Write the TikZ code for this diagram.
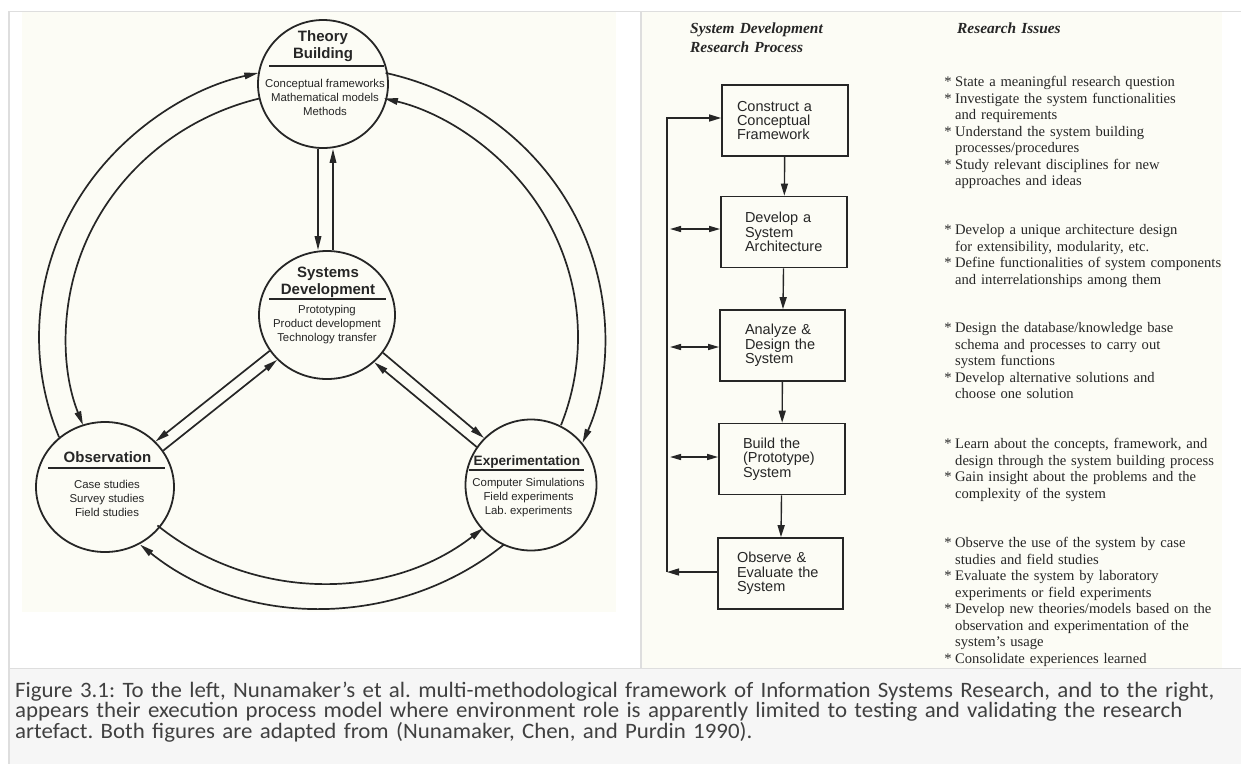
\documentclass[tikz,border=0pt]{standalone}
\usepackage{fontspec}
\setmainfont{Liberation Serif}
\setsansfont{Liberation Sans}
\newfontfamily\capfont{Carlito}[FakeStretch=1.04]
\usetikzlibrary{arrows.meta,shapes.geometric,calc}

\definecolor{scan}{RGB}{252,252,245}
\definecolor{ink}{RGB}{38,38,38}
\definecolor{frame}{RGB}{222,222,222}
\definecolor{capbg}{RGB}{246,246,246}
\definecolor{captext}{RGB}{64,64,64}

\newcommand\issuebullet{\leavevmode\llap{*\hspace{3.5pt}}}

\begin{document}
\begin{tikzpicture}[x=1pt,y=1pt,
  hub/.style 2 args={ellipse, draw=ink, line width=1.8pt, minimum width=#1,
    minimum height=#2, inner sep=0pt},
  link/.style={draw=ink, line width=1.7pt, -{Triangle[length=14pt,width=6.5pt]}},
  rulebar/.style={draw=ink, line width=1.5pt},
  htitle/.style={font=\sffamily\bfseries\fontsize{15}{17}\selectfont, align=center,
    inner sep=0pt, text=ink},
  hitems/.style={font=\sffamily\fontsize{11.4}{14}\selectfont, align=center,
    inner sep=0pt, text=ink},
  stagebox/.style={draw=ink, line width=1.7pt, minimum height=71pt, align=left,
    font=\sffamily\fontsize{14.5}{14.3}\selectfont, text=ink},
  flow/.style={draw=ink, line width=1.4pt, -{Triangle[length=12pt,width=7pt]}},
  twoway/.style={draw=ink, line width=1.4pt,
    {Triangle[length=11pt,width=6pt]}-{Triangle[length=11pt,width=6pt]}},
  headtext/.style={font=\rmfamily\bfseries\itshape\fontsize{15.4}{19}\selectfont,
    anchor=base west, align=left, inner sep=0pt, text width=200pt, text=ink},
  issue/.style={font=\rmfamily\fontsize{14.6}{16.5}\selectfont, anchor=base west,
    align=left, inner sep=0pt, text width=300pt, text=ink},
]
\useasboundingbox (0,0) rectangle (1241,-764);
\fill[white] (0,0) rectangle (1241,-764);

% panels and frame
\fill[scan] (22,-12) rectangle (616,-612);
\fill[scan] (642,-12) rectangle (1222,-668);
\fill[capbg] (8,-668) rectangle (1241,-764);
\draw[frame, line width=1pt] (8,-668.5) -- (1241,-668.5);
\draw[frame, line width=1pt] (8,-11.5) -- (1241,-11.5);
\draw[frame, line width=2pt] (8.5,-11) -- (8.5,-764);
\draw[frame, line width=1.5pt] (641,-12) -- (641,-668);

% ---------- multi-methodological framework ----------
\coordinate (ring) at (322,-337);

\node[hub={130pt}{128pt}] (T) at (323,-84) {};
\node[hub={136pt}{128pt}] (S) at (327,-315) {};
\node[hub={138pt}{130pt}] (O) at (105,-487) {};
\node[hub={131pt}{131pt}] (E) at (531,-485) {};

\node[htitle] (Tt) at (323,-46.5) {Theory\\Building};
\draw[rulebar] ($(T)+(-54,18)$) -- ($(T)+(61,18)$);
\node[hitems] (Ti) at (325,-97) {Conceptual frameworks\\Mathematical models\\Methods};

\node[htitle] (St) at (328,-282) {Systems\\Development};
\draw[rulebar] ($(S)+(-58,16)$) -- ($(S)+(59,16)$);
\node[hitems] (Si) at (327,-324.5) {Prototyping\\Product development\\Technology transfer};

\node[htitle] (Ot) at (107.5,-457) {Observation};
\draw[rulebar] ($(O)+(-57,19)$) -- ($(O)+(60,19)$);
\node[hitems] (Oi) at (107,-498) {Case studies\\Survey studies\\Field studies};

\node[htitle, font=\sffamily\bfseries\fontsize{13.6}{17}\selectfont] (Et) at (527,-462) {Experimentation};
\draw[rulebar] ($(E)+(-62,15)$) -- ($(E)+(53,15)$);
\node[hitems] (Ei) at (528.5,-498) {Computer Simulations\\Field experiments\\Lab.\ experiments};

% outer ring
\coordinate (o1) at ($(ring)+(201.7:283 and 271)$);
\coordinate (o3) at ($(ring)+(77:283 and 271)$);
\coordinate (o6) at ($(ring)+(-50:283 and 271)$);
\draw[link] (o1) arc[start angle=201.7, end angle=103, x radius=283, y radius=271];
\draw[link] (o3) arc[start angle=77, end angle=-23, x radius=283, y radius=271];
\draw[link] (o6) arc[start angle=-50, end angle=-130, x radius=283, y radius=271];
% inner ring
\coordinate (i2) at ($(ring)+(104:256 and 246)$);
\coordinate (i4) at ($(ring)+(-21:256 and 246)$);
\coordinate (i5) at ($(ring)+(-130:256 and 246)$);
\draw[link] (i2) arc[start angle=104, end angle=201, x radius=256, y radius=246];
\draw[link] (i4) arc[start angle=-21, end angle=76, x radius=256, y radius=246];
\draw[link] (i5) arc[start angle=-130, end angle=-51, x radius=256, y radius=246];

% spokes
\draw[link] ([xshift=-5pt]T.south) -- ([xshift=-9pt]S.north);
\draw[link] ([xshift=6pt]S.north) -- ([xshift=10pt]T.south);
\draw[link] (S.212.7) -- (O.42.9);
\draw[link] (O.32.7) -- (S.222.9);
\draw[link] (S.-34.6) -- (E.135);
\draw[link] (E.145.4) -- (S.-45);

% ---------- research process ----------
\node[headtext] (h1) at (690,-33) {System Development\\Research Process};
\node[headtext] (h2) at (957,-33) {Research Issues};

\node[stagebox, text width=96pt, inner xsep=15pt] (b1) at (785,-120.5) {Construct a\\Conceptual\\Framework};
\node[stagebox, text width=78pt, inner xsep=24pt] (b2) at (784,-232) {Develop a\\System\\Architecture};
\node[stagebox, text width=75pt, inner xsep=25pt] (b3) at (782.5,-345.5) {Analyze \&\\Design the\\System};
\node[stagebox, text width=78pt, inner xsep=24pt] (b4) at (782,-459) {Build the\\(Prototype)\\System};
\node[stagebox, text width=87pt, inner xsep=19pt] (b5) at (780.5,-573.5) {Observe \&\\Evaluate the\\System};

\draw[flow] (b1) -- (b2);
\draw[flow] (b2) -- (b3);
\draw[flow] (b3) -- (b4);
\draw[flow] (b4) -- (b5);

\coordinate (fbtop) at (667,-118);
\coordinate (fbbot) at (667,-572);
\coordinate (fb2) at (670,-229);
\coordinate (fb3) at (670,-347);
\coordinate (fb4) at (670,-457);
\draw[flow] (b5.west |- fbbot) -- (fbbot);
\draw[flow] (fbbot) -- (fbtop) -- (fbtop -| b1.west);
\draw[twoway] (fb2) -- (fb2 -| b2.west);
\draw[twoway] (fb3) -- (fb3 -| b3.west);
\draw[twoway] (fb4) -- (fb4 -| b4.west);

\node[issue] (g1) at (955,-86.5) {\issuebullet State a meaningful research question\\
\issuebullet Investigate the system functionalities\\
and requirements\\
\issuebullet Understand the system building\\
processes/procedures\\
\issuebullet Study relevant disciplines for new\\
approaches and ideas};
\node[issue] (g2) at (955,-234.5) {\issuebullet Develop a unique architecture design\\
for extensibility, modularity, etc.\\
\issuebullet Define functionalities of system components\\
and interrelationships among them};
\node[issue] (g3) at (955,-332.5) {\issuebullet Design the database/knowledge base\\
schema and processes to carry out\\
system functions\\
\issuebullet Develop alternative solutions and\\
choose one solution};
\node[issue] (g4) at (955,-448.5) {\issuebullet Learn about the concepts, framework, and\\
design through the system building process\\
\issuebullet Gain insight about the problems and the\\
complexity of the system};
\node[issue] (g5) at (955,-547.5) {\issuebullet Observe the use of the system by case\\
studies and field studies\\
\issuebullet Evaluate the system by laboratory\\
experiments or field experiments\\
\issuebullet Develop new theories/models based on the\\
observation and experimentation of the\\
system's usage\\
\issuebullet Consolidate experiences learned};

% ---------- caption ----------
\node[font=\capfont\fontsize{22}{20.5}\selectfont\frenchspacing, text=captext, anchor=base west,
  align=left, inner sep=0pt, text width=1230pt] (cap) at (15,-697)
  {Figure 3.1: To the left, Nunamaker’s et al. multi-methodological framework of Information Systems Research, and to the right,\\
  appears their execution process model where environment role is apparently limited to testing and validating the research\\
  artefact. Both figures are adapted from (Nunamaker, Chen, and Purdin 1990).};
\end{tikzpicture}
\end{document}
